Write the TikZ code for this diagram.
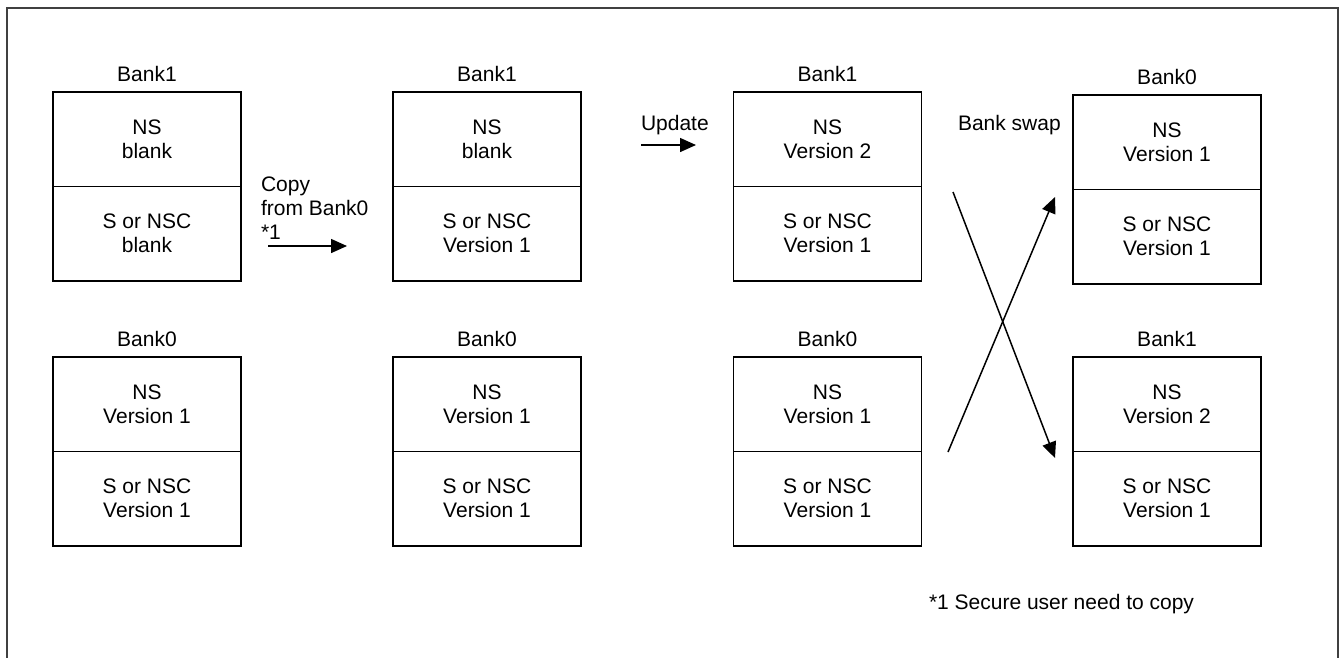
\documentclass[tikz,border=0pt]{standalone}
\usepackage{fontspec}
\setmainfont{Liberation Sans}
\usetikzlibrary{arrows.meta}
\begin{document}
\begin{tikzpicture}[x=1pt,y=-1pt,
  every node/.style={inner sep=0pt, outer sep=0pt},
  txt/.style={font=\fontsize{21}{24}\selectfont, align=center},
  half/.style={txt, draw=black, line width=1.6pt, minimum width=188pt, minimum height=94.5pt},
  banklbl/.style={txt, anchor=base},
  flow/.style={line width=1.5pt, -{Triangle[length=16pt,width=14pt]}},
  frame/.style={draw=black!75, line width=2pt}
]
\useasboundingbox (0,0) rectangle (1343,657);
\draw[frame] (7,670) -- (7,8) -- (1338,8) -- (1338,670);

% ---- top row ----
\node[half] (t1a) at (147,139.25) {NS\\blank};
\node[half] (t1b) at (147,233.75) {S or NSC\\blank};
\node[banklbl] (t1l) at (147,81) {Bank1};

\node[half] (t2a) at (487,139.25) {NS\\blank};
\node[half] (t2b) at (487,233.75) {S or NSC\\Version 1};
\node[banklbl] (t2l) at (487,81) {Bank1};

\node[half] (t3a) at (827.5,139.25) {NS\\Version 2};
\node[half] (t3b) at (827.5,233.75) {S or NSC\\Version 1};
\node[banklbl] (t3l) at (827.5,81) {Bank1};

\node[half] (t4a) at (1167,142.25) {NS\\Version 1};
\node[half] (t4b) at (1167,236.75) {S or NSC\\Version 1};
\node[banklbl] (t4l) at (1167,84) {Bank0};

% ---- bottom row ----
\node[half] (u1a) at (147,404.25) {NS\\Version 1};
\node[half] (u1b) at (147,498.75) {S or NSC\\Version 1};
\node[banklbl] (u1l) at (147,346) {Bank0};

\node[half] (u2a) at (487,404.25) {NS\\Version 1};
\node[half] (u2b) at (487,498.75) {S or NSC\\Version 1};
\node[banklbl] (u2l) at (487,346) {Bank0};

\node[half] (u3a) at (827.5,404.25) {NS\\Version 1};
\node[half] (u3b) at (827.5,498.75) {S or NSC\\Version 1};
\node[banklbl] (u3l) at (827.5,346) {Bank0};

\node[half] (u4a) at (1167,404.25) {NS\\Version 2};
\node[half] (u4b) at (1167,498.75) {S or NSC\\Version 1};
\node[banklbl] (u4l) at (1167,346) {Bank1};

% ---- copy arrow ----
\node[txt, align=left, anchor=north west] (copytxt) at (261,177) {Copy\\from Bank0\\*1};
\coordinate (c0) at (268,246);
\coordinate (c1) at (347,246);
\draw[flow] (c0) -- (c1);

% ---- update arrow ----
\node[txt, anchor=base west] (updtxt) at (641,130) {Update};
\coordinate (d0) at (641,145);
\coordinate (d1) at (696,145);
\draw[flow] (d0) -- (d1);

% ---- bank swap ----
\node[txt, anchor=base west] (swaptxt) at (958,130) {Bank swap};
\coordinate (s0) at (953,192);
\coordinate (s1) at (1055,458);
\coordinate (s2) at (948,452);
\coordinate (s3) at (1055,197);
\draw[flow] (s0) -- (s1);
\draw[flow] (s2) -- (s3);

% ---- footnote ----
\node[txt, anchor=west] (note) at (929,604) {*1 Secure user need to copy};
\end{tikzpicture}
\end{document}
